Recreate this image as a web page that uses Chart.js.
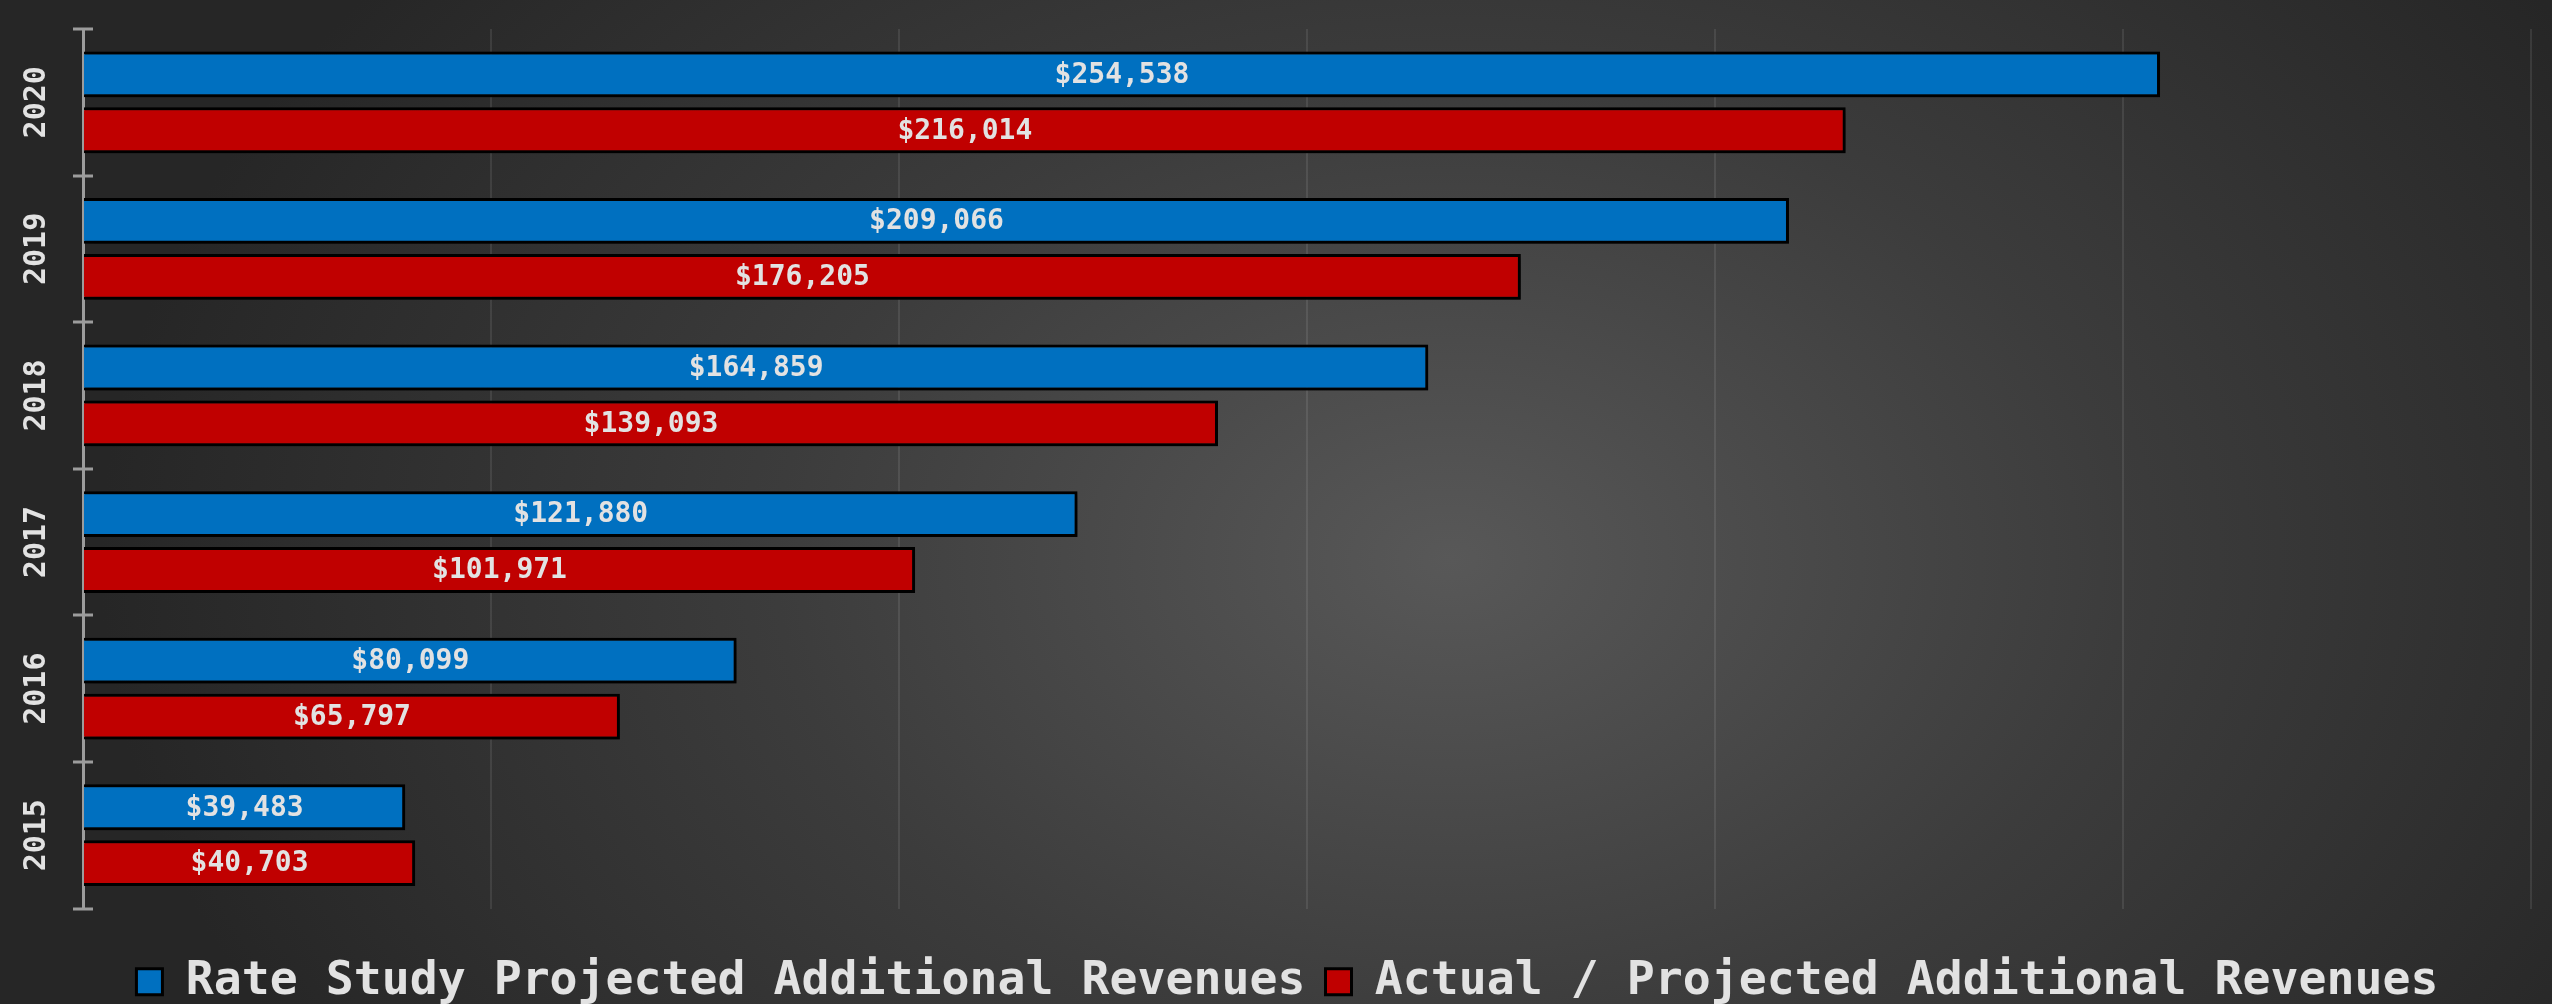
<!DOCTYPE html>
<html>
<head>
<meta charset="utf-8">
<script src="https://cdn.jsdelivr.net/npm/chart.js@4.4.1/dist/chart.umd.min.js"></script>
<style>
  html, body { margin: 0; padding: 0; }
  body {
    width: 2552px; height: 1004px; overflow: hidden;
    background: radial-gradient(ellipse 1350px 950px at 1450px 560px, #585858 0%, #3c3c3c 50%, #262626 100%);
  }
  canvas { display: block; }
</style>
</head>
<body>
<canvas id="revChart" width="2552" height="1004"></canvas>
<script>
// years top to bottom, as in the picture
const years = ['2020', '2019', '2018', '2017', '2016', '2015'];
const rateStudy = [254538, 209066, 164859, 121880, 80099, 39483];
const actual = [216014, 176205, 139093, 101971, 65797, 40703];
const xTicks = [0, 50000, 100000, 150000, 200000, 250000, 300000];

const FONT = "'DejaVu Sans Mono', 'Liberation Mono', monospace";
const TEXT = '#e2e2e2';
const AXIS = '#9c9c9c';

const fmt = v => '$' + v.toLocaleString('en-US');

// soft shadow under the bars
const barShadow = {
    id: 'barShadow',
    beforeDatasetsDraw(chart) {
        const c = chart.ctx;
        c.save();
        c.shadowColor = 'rgba(0,0,0,0.55)';
        c.shadowBlur = 8;
        c.shadowOffsetX = 3;
        c.shadowOffsetY = 3;
    },
    afterDatasetsDraw(chart) {
        chart.ctx.restore();
    }
};

// value labels in the middle of each bar
const barLabels = {
    id: 'barLabels',
    afterDatasetsDraw(chart) {
        const c = chart.ctx;
        c.save();
        c.font = 'bold 28px ' + FONT;
        c.fillStyle = TEXT;
        c.textAlign = 'center';
        c.textBaseline = 'middle';
        chart.data.datasets.forEach((ds, i) => {
            chart.getDatasetMeta(i).data.forEach((bar, j) => {
                const p = bar.getProps(['x', 'y', 'base'], true);
                c.fillText(fmt(ds.data[j]), (p.x + p.base) / 2, p.y + 1);
            });
        });
        c.restore();
    }
};

// rotated year labels and the cross ticks on the y axis
const yAxisDeco = {
    id: 'yAxisDeco',
    afterDraw(chart) {
        const c = chart.ctx;
        const y = chart.scales.y;
        const ax = chart.chartArea.left;
        c.save();
        c.strokeStyle = AXIS;
        c.lineWidth = 3;
        for (let i = 0; i <= years.length; i++) {
            const py = Math.round(y.getPixelForValue(i - 0.5));
            c.beginPath();
            c.moveTo(ax - 10, py);
            c.lineTo(ax + 10, py);
            c.stroke();
        }
        c.font = 'bold 30px ' + FONT;
        c.fillStyle = TEXT;
        c.textAlign = 'center';
        c.textBaseline = 'middle';
        years.forEach((yr, i) => {
            c.save();
            c.translate(37, y.getPixelForValue(i));
            c.rotate(-Math.PI / 2);
            c.fillText(yr, 0, 0);
            c.restore();
        });
        c.restore();
    }
};

const ctx = document.getElementById('revChart').getContext('2d');

new Chart(ctx, {
    type: 'bar',
    data: {
        labels: years,
        datasets: [{
            label: 'Rate Study Projected Additional Revenues',
            data: rateStudy,
            backgroundColor: '#0070C0',
            borderColor: '#000000',
            borderWidth: 3
        }, {
            label: 'Actual / Projected Additional Revenues',
            data: actual,
            backgroundColor: '#C00000',
            borderColor: '#000000',
            borderWidth: 3
        }]
    },
    options: {
        indexAxis: 'y',
        responsive: false,
        animation: false,
        datasets: {
            bar: {
                categoryPercentage: 0.763,
                barPercentage: 0.82
            }
        },
        layout: {
            padding: { top: 29, right: 21, left: 44, bottom: -11 }
        },
        scales: {
            x: {
                min: xTicks[0],
                max: xTicks[xTicks.length - 1],
                afterBuildTicks: s => { s.ticks = xTicks.map(v => ({ value: v })); },
                afterFit: s => { s.height = 30; },
                ticks: { display: false },
                border: { display: false },
                grid: {
                    drawTicks: false,
                    lineWidth: 2,
                    color: c => c.tick && c.tick.value === 0 ? 'rgba(0,0,0,0)' : 'rgba(255,255,255,0.09)'
                }
            },
            y: {
                afterFit: s => { s.width = 39; },
                ticks: { display: false },
                grid: { display: false },
                border: { display: true, color: AXIS, width: 3 }
            }
        },
        plugins: {
            legend: {
                position: 'bottom',
                labels: {
                    color: TEXT,
                    font: { family: FONT, size: 46.5, weight: 'bold' },
                    boxWidth: 26,
                    boxHeight: 26,
                    padding: 20
                }
            },
            tooltip: { enabled: false }
        }
    },
    plugins: [barShadow, barLabels, yAxisDeco]
});
</script>
</body>
</html>
